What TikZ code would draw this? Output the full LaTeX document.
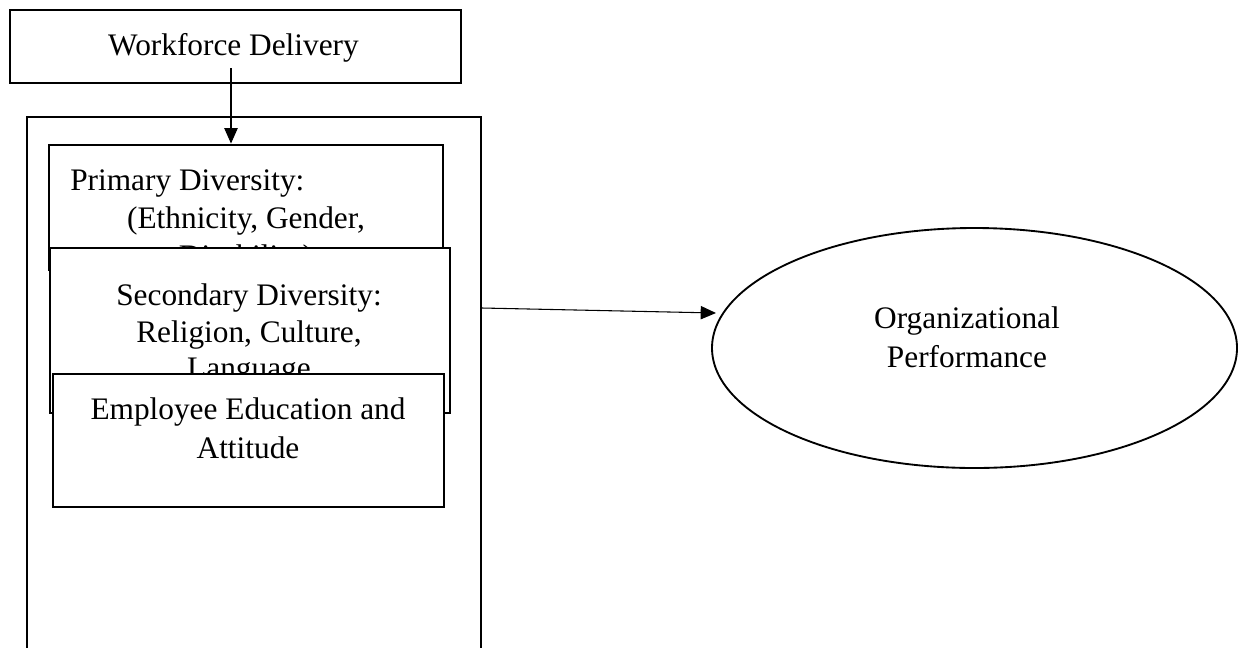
\documentclass[tikz,border=0pt]{standalone}
\usepackage{fontspec}
\setmainfont{Liberation Serif}
\usetikzlibrary{arrows.meta,shapes.geometric}
\tikzset{
  box/.style={draw, line width=2.2pt, fill=white, rectangle, inner sep=0pt},
  oval/.style={draw, line width=1.4pt, fill=white, ellipse, inner sep=0pt},
  txt/.style={anchor=base, inner sep=0pt, font=\fontsize{23.5}{28}\selectfont},
  link/.style={line width=0.8pt, -{Triangle[length=11.5pt,width=10pt]}}
}
\begin{document}
\begin{tikzpicture}[x=0.75pt,y=-0.75pt]
\clip (0,0) rectangle (1238,647);
\fill[white] (0,0) rectangle (1238,647);
% top box
\node[box, minimum width=338.25pt, minimum height=54.75pt] (wf) at (235.5,46.5) {};
\node[txt] (wft) at (233.5,55) {Workforce Delivery};
% outer frame
\node[box, fill=none, minimum width=340.5pt, minimum height=437.25pt] (outer) at (254,408.5) {};
% primary
\node[box, minimum width=295.5pt, minimum height=93.75pt] (prim) at (246,207.5) {};
\node[txt, anchor=base west] (p1) at (70,190) {Primary Diversity:};
\node[txt] (p2) at (246,228) {(Ethnicity, Gender,};
\node[txt] (p3) at (246,266) {Disability)};
% secondary
\node[box, minimum width=300pt, minimum height=123.75pt] (sec) at (250,330.5) {};
\node[txt] (s1) at (249,305) {Secondary Diversity:};
\node[txt] (s2) at (249,342) {Religion, Culture,};
\node[txt] (s3) at (249,378) {Language};
% employee
\node[box, minimum width=293.25pt, minimum height=99.75pt] (emp) at (248.5,440.5) {};
\node[txt] (e1) at (248,419) {Employee Education and};
\node[txt] (e2) at (248,458) {Attitude};
% ellipse
\node[oval, minimum width=393.75pt, minimum height=180pt] (org) at (974.5,348) {};
\node[txt] (o1) at (967,328) {Organizational};
\node[txt] (o2) at (967,367) {Performance};
% connectors
\coordinate (a1) at (231,68);
\draw[link] (a1) -- (a1 |- prim.north);
\coordinate (a2) at (482,308);
\coordinate (a2e) at (716,313);
\draw[link] (a2) -- (a2e);
\end{tikzpicture}
\end{document}
